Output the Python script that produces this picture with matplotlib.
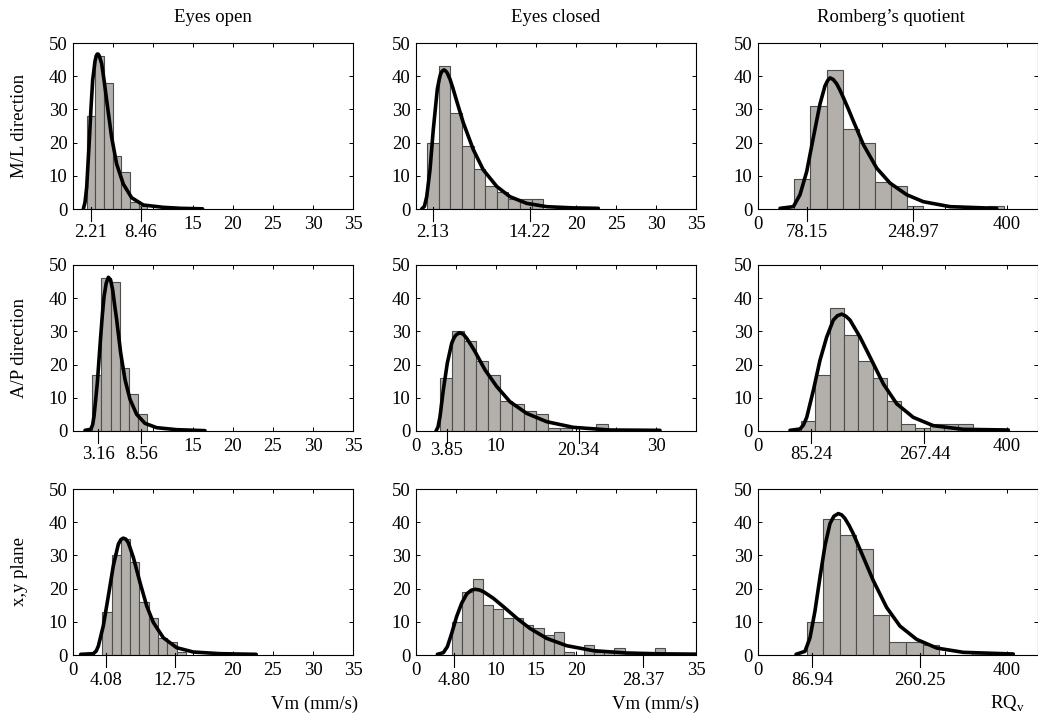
import matplotlib
matplotlib.use("Agg")
import matplotlib.pyplot as plt
import matplotlib.transforms as mtransforms

plt.rcParams['font.family'] = ['Liberation Serif', 'DejaVu Serif']
plt.rcParams['mathtext.fontset'] = 'custom'
plt.rcParams['mathtext.rm'] = 'Liberation Serif'

# ---------------- text ----------------
col_titles = ["Eyes open", "Eyes closed", "Romberg’s quotient"]
row_titles = ["M/L direction", "A/P direction", "x,y plane"]
x_titles = ["Vm (mm/s)", "Vm (mm/s)", r"RQ$_\mathregular{v}$"]

# ---------------- data: M/L direction ----------------
ml_open_start, ml_open_width = 1.71, 1.08
ml_open_counts = [28, 46, 38, 16, 11, 2, 1]
ml_open_q = [2.21, 8.46]
ml_open_cx = [1.29, 1.50, 1.71, 2.04, 2.25, 2.46, 2.75, 2.90, 3.04, 3.17, 3.30, 3.58, 3.90, 4.21, 4.83, 5.46, 6.29, 7.33, 8.79, 11.3, 13.5, 16.2]
ml_open_cy = [0.0, 2.0, 6.5, 20.6, 30.5, 38.8, 44.5, 46.1, 46.7, 46.6, 46.0, 43.8, 38.5, 32.7, 21.6, 13.5, 7.5, 3.4, 1.2, 0.5, 0.2, 0.05]

ml_closed_start, ml_closed_width = 1.41, 1.45
ml_closed_counts = [20, 43, 29, 19, 12, 7, 5, 3, 3, 3]
ml_closed_q = [2.13, 14.22]
ml_closed_cx = [0.71, 1.05, 1.34, 1.75, 2.16, 2.66, 2.90, 3.05, 3.25, 3.5, 3.7, 3.9, 4.25, 4.6, 5.09, 5.91, 7.16, 8.41, 10.09, 11.75, 13.84, 16.34, 19.5, 22.79]
ml_closed_cy = [0.0, 0.8, 3.7, 11.8, 23.9, 36.0, 39.0, 40.5, 41.5, 41.9, 41.6, 41.0, 39.1, 36.5, 32.5, 26.0, 17.9, 11.8, 6.8, 3.7, 1.7, 0.7, 0.35, 0.2]

ml_rq_start, ml_rq_width = 58.4, 25.9
ml_rq_counts = [9, 31, 42, 24, 20, 8, 7, 1, 0, 0, 0, 0, 1]
ml_rq_q = [78.15, 248.97]
ml_rq_cx = [35.4, 56.8, 67.5, 78.3, 88.9, 99.6, 107.7, 112.0, 115.7, 121.0, 126.5, 131.5, 137.1, 145.0, 153.2, 169.3, 190.8, 212.2, 239.0, 265.7, 308.6, 383.6]
ml_rq_cy = [0.2, 0.7, 4.3, 11.3, 21.5, 31.6, 37.1, 38.7, 39.5, 39.0, 37.7, 35.9, 33.6, 30.2, 26.5, 19.4, 12.3, 7.8, 4.3, 2.2, 0.7, 0.2]

# ---------------- data: A/P direction ----------------
ap_open_start, ap_open_width = 2.42, 1.14
ap_open_counts = [17, 46, 45, 19, 11, 5]
ap_open_q = [3.16, 8.56]
ap_open_cx = [1.5, 2.21, 2.45, 2.63, 3.04, 3.25, 3.46, 3.67, 3.88, 4.15, 4.42, 4.70, 4.96, 5.2, 5.46, 5.96, 6.5, 7.13, 7.96, 9.0, 10.46, 12.96, 16.5]
ap_open_cy = [0.2, 0.5, 1.8, 4.5, 14.5, 21.5, 28.5, 35.0, 40.5, 44.5, 46.3, 45.5, 42.5, 38.0, 33.5, 23.5, 15.5, 9.5, 5.0, 2.3, 1.0, 0.4, 0.1]

ap_closed_start, ap_closed_width = 3.04, 1.50
ap_closed_counts = [16, 30, 27, 21, 17, 9, 8, 6, 5, 1, 1, 0, 0, 2]
ap_closed_q = [3.85, 20.34]
ap_closed_cx = [2.5, 2.75, 3.0, 3.41, 3.91, 4.46, 4.70, 4.95, 5.41, 5.9, 6.34, 6.8, 7.38, 8.63, 10.09, 11.75, 13.84, 16.34, 19.66, 24.25, 30.5]
ap_closed_cy = [0.0, 1.2, 4.3, 12.3, 20.4, 26.4, 27.8, 28.8, 29.6, 29.2, 27.9, 26.2, 23.9, 18.4, 13.4, 8.8, 5.3, 2.8, 1.1, 0.3, 0.2]

ap_rq_start, ap_rq_width = 69.1, 23.0
ap_rq_counts = [3, 17, 37, 29, 21, 16, 9, 2, 1, 2, 2, 2]
ap_rq_q = [85.24, 267.44]
ap_rq_cx = [51.4, 67.5, 73.0, 78.3, 88.9, 99.6, 110.4, 121.0, 127.5, 134.5, 141.2, 147.9, 163.9, 180.0, 201.4, 222.9, 249.6, 281.8, 330.0, 402.3]
ap_rq_cy = [0.2, 0.6, 1.8, 4.1, 12.2, 21.3, 28.3, 33.4, 34.7, 35.2, 34.6, 33.4, 28.3, 22.3, 14.2, 8.2, 4.1, 1.6, 0.5, 0.3]

# ---------------- data: x,y plane ----------------
xy_open_start, xy_open_width = 3.67, 1.16
xy_open_counts = [13, 30, 35, 28, 16, 11, 5, 4, 1]
xy_open_q = [4.08, 12.75]
xy_open_cx = [0.96, 2.54, 2.9, 3.17, 3.79, 4.42, 5.04, 5.67, 6.0, 6.29, 6.6, 6.92, 7.54, 8.38, 9.21, 10.04, 11.29, 12.96, 15.04, 18.38, 22.9]
xy_open_cy = [0.2, 0.4, 1.2, 2.7, 8.8, 17.8, 26.9, 33.4, 34.8, 35.2, 34.9, 33.8, 29.4, 21.8, 14.8, 9.8, 5.2, 2.2, 0.9, 0.4, 0.2]

xy_closed_start, xy_closed_width = 4.54, 1.267
xy_closed_counts = [10, 19, 23, 15, 14, 11, 11, 9, 8, 6, 7, 1, 0, 3, 1, 1, 2, 1, 0, 0, 2]
xy_closed_q = [4.80, 28.37]
xy_closed_cx = [2.67, 3.42, 3.92, 4.46, 5.08, 5.71, 6.34, 6.9, 7.38, 7.9, 8.41, 9.66, 10.91, 12.59, 14.25, 16.34, 18.84, 22.16, 26.34, 30.5, 35.0]
xy_closed_cy = [0.2, 0.7, 2.5, 6.5, 11.6, 15.6, 18.4, 19.5, 19.8, 19.6, 19.1, 17.1, 14.6, 11.1, 8.0, 5.0, 2.8, 1.3, 0.6, 0.35, 0.25]

xy_rq_start, xy_rq_width = 78.2, 26.6
xy_rq_counts = [10, 41, 36, 32, 12, 4, 4, 3, 0, 0, 1]
xy_rq_q = [86.94, 260.25]
xy_rq_cx = [61.1, 75.5, 83.6, 91.6, 99.6, 107.7, 115.7, 122.0, 129.1, 134.5, 139.8, 146.5, 153.2, 169.2, 185.3, 206.8, 228.2, 255.0, 287.2, 330.0, 410.3]
xy_rq_cy = [0.2, 1.1, 5.2, 13.3, 23.4, 33.0, 39.6, 41.8, 42.6, 42.2, 41.1, 39.0, 36.5, 29.5, 22.4, 14.3, 8.7, 4.7, 2.1, 0.8, 0.3]

# ---------------- axes ticks ----------------
vm_ticks = [0, 5, 10, 15, 20, 25, 30, 35]
rq_ticks = [0, 100, 200, 300, 400]
y_ticks = [0, 10, 20, 30, 40, 50]
labelled = [
    [[15, 20, 25, 30, 35], [20, 25, 30, 35], [0, 400]],
    [[15, 20, 25, 30, 35], [0, 10, 30], [0, 400]],
    [[0, 20, 25, 30, 35], [0, 10, 15, 20, 35], [0, 400]],
]

panels = [
    [(ml_open_start, ml_open_width, ml_open_counts, ml_open_q, ml_open_cx, ml_open_cy),
     (ml_closed_start, ml_closed_width, ml_closed_counts, ml_closed_q, ml_closed_cx, ml_closed_cy),
     (ml_rq_start, ml_rq_width, ml_rq_counts, ml_rq_q, ml_rq_cx, ml_rq_cy)],
    [(ap_open_start, ap_open_width, ap_open_counts, ap_open_q, ap_open_cx, ap_open_cy),
     (ap_closed_start, ap_closed_width, ap_closed_counts, ap_closed_q, ap_closed_cx, ap_closed_cy),
     (ap_rq_start, ap_rq_width, ap_rq_counts, ap_rq_q, ap_rq_cx, ap_rq_cy)],
    [(xy_open_start, xy_open_width, xy_open_counts, xy_open_q, xy_open_cx, xy_open_cy),
     (xy_closed_start, xy_closed_width, xy_closed_counts, xy_closed_q, xy_closed_cx, xy_closed_cy),
     (xy_rq_start, xy_rq_width, xy_rq_counts, xy_rq_q, xy_rq_cx, xy_rq_cy)],
]

# ---------------- layout (pixels) ----------------
W, H = 1038, 721
col_left = [73, 416, 758]
ax_w = 280
row_top = [43, 265, 489]
ax_h = 166
FS = 13.5
bar_face = '#b3afab'
bar_edge = '#4d4d4d'

fig = plt.figure(figsize=(W / 100, H / 100), dpi=100)

for r in range(3):
    for c in range(3):
        start, width, counts, q, cx, cy = panels[r][c]
        ax = fig.add_axes([col_left[c] / W, 1 - (row_top[r] + ax_h) / H, ax_w / W, ax_h / H])
        lefts = [start + i * width for i in range(len(counts))]
        hl = [(x, h) for x, h in zip(lefts, counts) if h > 0]
        ax.bar([p[0] for p in hl], [p[1] for p in hl], width=width, align='edge',
               color=bar_face, edgecolor=bar_edge, linewidth=0.8, zorder=2)
        ax.plot(cx, cy, color='black', lw=2.6, solid_capstyle='round',
                solid_joinstyle='round', zorder=3)
        ax.set_ylim(0, 50)
        if c < 2:
            ax.set_xlim(0, 35)
            ticks = vm_ticks
        else:
            ax.set_xlim(0, 450)
            ticks = rq_ticks
        lab = labelled[r][c]
        ax.set_xticks(ticks)
        ax.set_xticklabels([str(t) if t in lab else '' for t in ticks])
        ax.set_yticks(y_ticks)
        ax.set_yticklabels([str(t) for t in y_ticks])
        ax.tick_params(direction='in', length=3, width=0.7, top=True, right=True,
                       labelsize=FS, colors='black')
        ax.tick_params(axis='x', pad=5.0)
        ax.tick_params(axis='y', pad=4.0)
        for s in ax.spines.values():
            s.set_linewidth(0.8)
        trans = mtransforms.blended_transform_factory(ax.transData, ax.transAxes)
        off = 8 if (r == 1 and c == 1) else (12.5 if r == 2 else 11)
        for qv in q:
            ax.plot([qv, qv], [0.01, -0.075], transform=trans, clip_on=False,
                    color='black', lw=0.8, zorder=4)
            ax.annotate(f"{qv:.2f}", xy=(qv, 0), xycoords=trans, xytext=(0, -off),
                        textcoords='offset points', ha='center', va='top', fontsize=FS)

# column titles
col_title_x = [213, 556, 891]
for c in range(3):
    fig.text(col_title_x[c] / W, 1 - 17 / H, col_titles[c], ha='center', va='center', fontsize=FS)

# row titles
row_title_y = [126, 348, 572]
for r in range(3):
    fig.text(20 / W, 1 - row_title_y[r] / H, row_titles[r], ha='center', va='center',
             rotation=90, fontsize=FS)

# x titles
x_title_x = [315, 656, 1007]
for c in range(3):
    fig.text(x_title_x[c] / W, 1 - 704 / H, x_titles[c], ha='center', va='center', fontsize=FS)

fig.savefig('out.png', dpi=100)
